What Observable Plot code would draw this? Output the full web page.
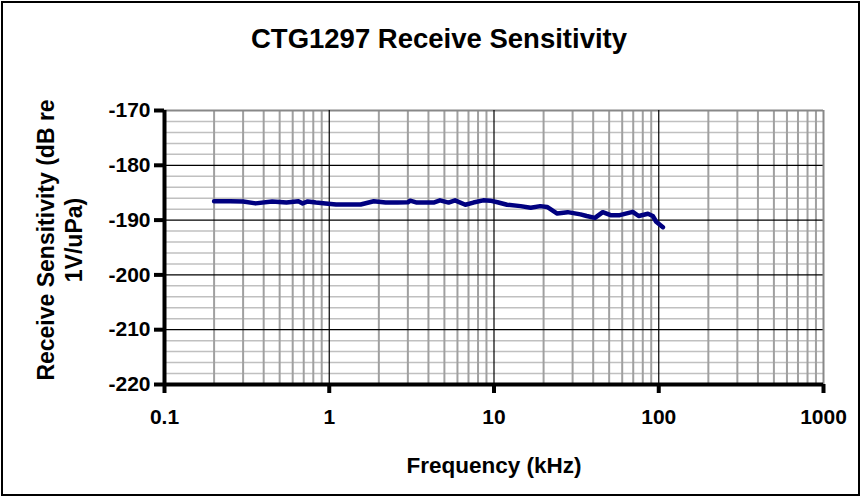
<!DOCTYPE html>
<html>
<head>
<meta charset="utf-8">
<script src="https://cdn.jsdelivr.net/npm/d3@7"></script>
<script src="https://cdn.jsdelivr.net/npm/@observablehq/plot@0.6"></script>
<style>
  html, body { margin: 0; padding: 0; background: #fff; }
  svg { display: block; }
</style>
</head>
<body>
<div id="chart"></div>
<script>
const titleText = "CTG1297 Receive Sensitivity";
const xLabel = "Frequency (kHz)";
const yLabelLines = ["Receive Sensitivity (dB re", "1V/uPa)"];

const freq = [0.2, 0.25, 0.3, 0.357, 0.45, 0.55, 0.65, 0.69, 0.74, 0.83, 0.95, 1.1, 1.55, 1.86, 2.2, 2.6, 3.0, 3.1, 3.4, 4.3, 4.7, 5.3, 5.8, 6.7, 7.5, 8.6, 9.5, 10.5, 12, 14.5, 16.7, 19.1, 21, 24.2, 28, 33.5, 36.5, 41, 45.7, 51, 58, 69.5, 75.5, 86, 92, 96.5, 106];
const sens = [-186.55, -186.55, -186.6, -186.95, -186.6, -186.8, -186.55, -186.95, -186.6, -186.8, -186.95, -187.15, -187.15, -186.55, -186.8, -186.8, -186.75, -186.45, -186.8, -186.8, -186.4, -186.8, -186.4, -187.2, -186.8, -186.4, -186.45, -186.75, -187.2, -187.45, -187.75, -187.45, -187.6, -188.8, -188.55, -188.95, -189.25, -189.6, -188.55, -189.1, -189.1, -188.5, -189.25, -188.85, -189.25, -190.3, -191.3];

const xTicks = [0.1, 1, 10, 100, 1000];
const xTickLabels = ["0.1", "1", "10", "100", "1000"];
const yTicks = [-220, -210, -200, -190, -180, -170];
const xMinor = [0.1, 1, 10, 100].flatMap(d => [2,3,4,5,6,7,8,9].map(k => d * k));
const yMinor = d3.range(-218, -170, 2).filter(v => v % 10 !== 0);

const data = freq.map((f, i) => ({f, s: sens[i]}));

const W = 861, H = 497;
const font = "'Liberation Sans', Arial, sans-serif";

const plot = Plot.plot({
  width: W,
  height: H,
  marginLeft: 164,
  marginRight: 38,
  marginTop: 110,
  marginBottom: 113,
  style: {fontFamily: font, background: "#fff", overflow: "visible"},
  x: {type: "log", domain: [0.1, 1000]},
  y: {domain: [-220, -170]},
  marks: [
    Plot.ruleY(yMinor, {stroke: "#c0c0c0", strokeWidth: 1.5}),
    Plot.ruleX(xMinor, {stroke: "#a0a0a0", strokeWidth: 2}),
    Plot.ruleY([-210, -200, -190, -180], {stroke: "#000", strokeWidth: 1.2}),
    Plot.ruleY([-170], {stroke: "#888", strokeWidth: 2}),
    Plot.ruleX([1, 10, 100], {stroke: "#000", strokeWidth: 1.2}),
    Plot.ruleX([1000], {stroke: "#888", strokeWidth: 2}),
    Plot.line(data, {x: "f", y: "s", stroke: "#000080", strokeWidth: 4.5, curve: "linear"}),
    Plot.ruleX([0.1], {stroke: "#000", strokeWidth: 4}),
    Plot.ruleY([-220], {stroke: "#000", strokeWidth: 4}),
    Plot.axisY({ticks: yTicks, tickFormat: d => String(d), tickSize: 10, tickPadding: 4,
      strokeWidth: 4, fontSize: 21, fontWeight: "bold", label: null, color: "#000"}),
    Plot.axisX({ticks: xTicks, tickFormat: (d, i) => xTickLabels[xTicks.indexOf(d)],
      tickSize: 9, tickPadding: 16, strokeWidth: 4, fontSize: 21, fontWeight: "bold", label: null, color: "#000"})
  ]
});

const svg = d3.select(plot);
svg.insert("rect", ":first-child")
  .attr("x", 2).attr("y", 2).attr("width", W - 4).attr("height", H - 4)
  .attr("fill", "none").attr("stroke", "#000").attr("stroke-width", 2);

svg.append("text")
  .attr("x", 439).attr("y", 48)
  .attr("text-anchor", "middle")
  .attr("font-family", font).attr("font-weight", "bold").attr("font-size", 27.5)
  .attr("fill", "#000")
  .text(titleText);

svg.append("text")
  .attr("x", 494).attr("y", 473)
  .attr("text-anchor", "middle")
  .attr("font-family", font).attr("font-weight", "bold").attr("font-size", 22.5)
  .attr("fill", "#000")
  .text(xLabel);

const yl = svg.append("text")
  .attr("transform", "translate(0,240) rotate(-90)")
  .attr("text-anchor", "middle")
  .attr("font-family", font).attr("font-weight", "bold").attr("font-size", 23)
  .attr("fill", "#000");
yl.append("tspan").attr("x", 0).attr("y", 54).text(yLabelLines[0]);
yl.append("tspan").attr("x", 0).attr("y", 82).text(yLabelLines[1]);

document.getElementById("chart").appendChild(plot);
</script>
</body>
</html>
